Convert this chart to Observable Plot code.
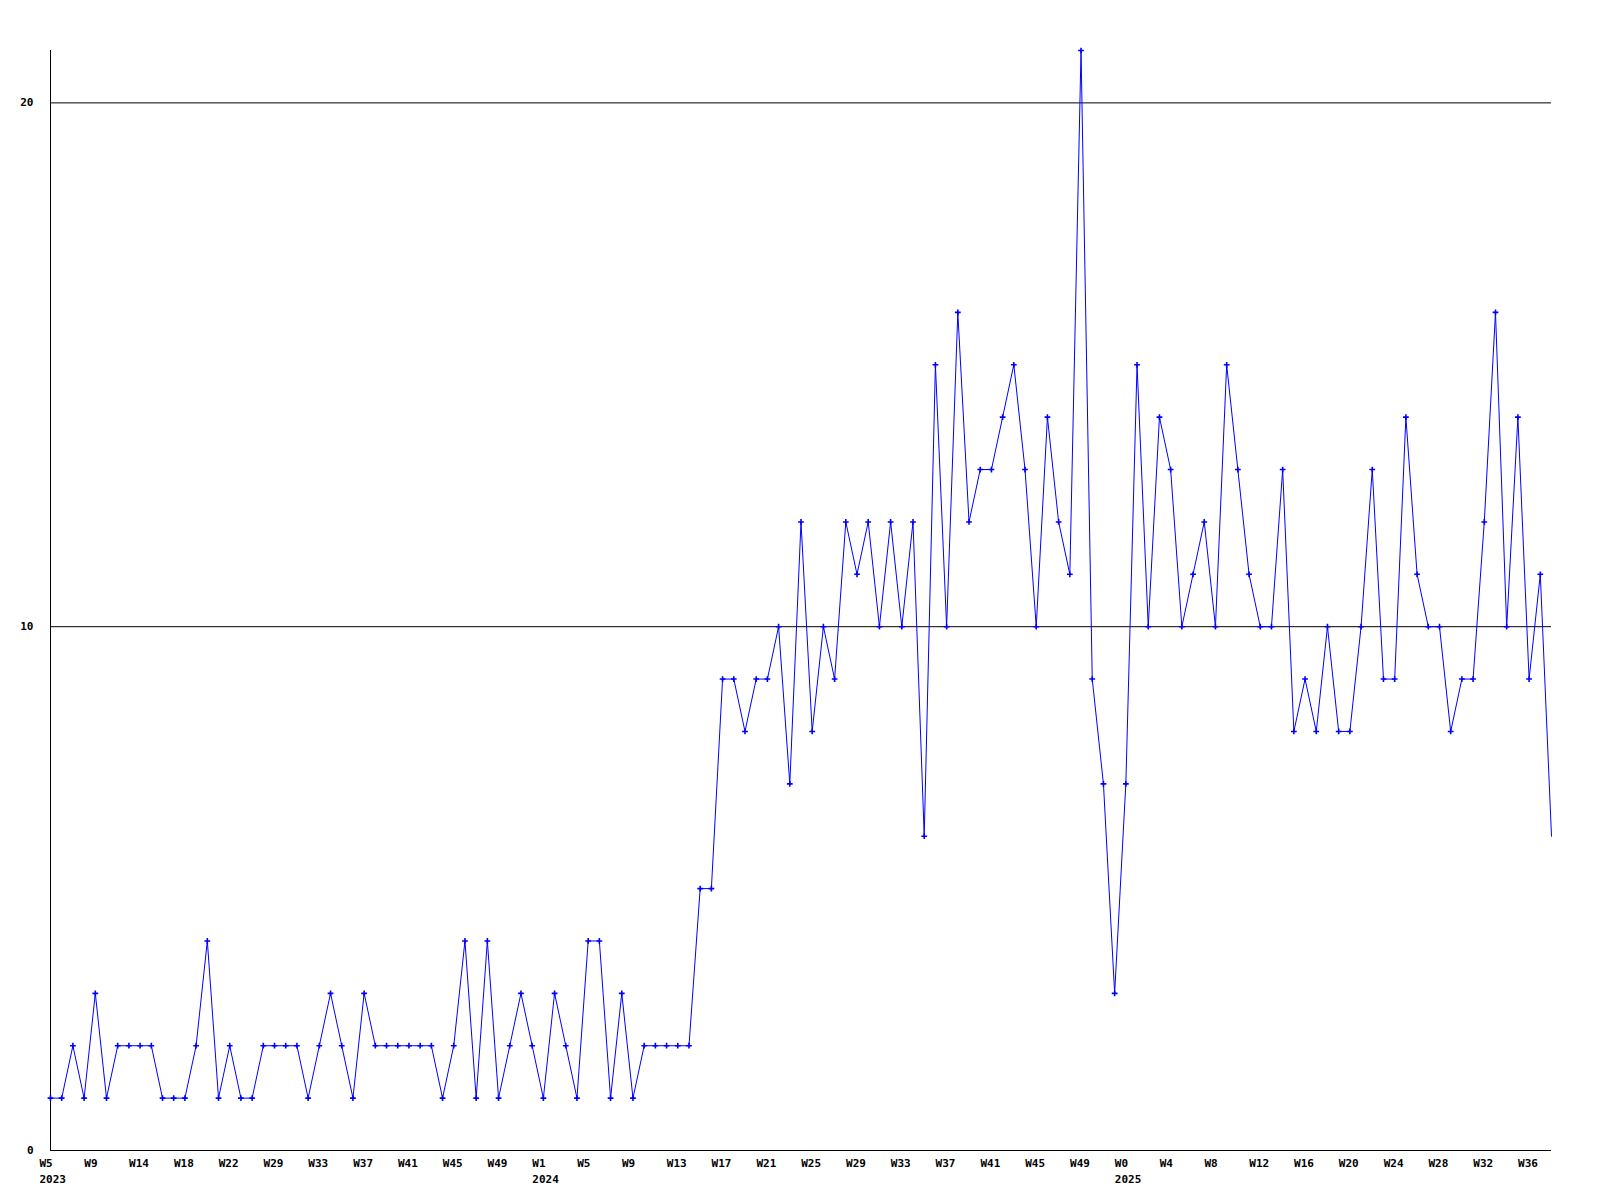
<!DOCTYPE html>
<html>
<head>
<meta charset="utf-8">
<script src="https://cdn.jsdelivr.net/npm/d3@7"></script>
<script src="https://cdn.jsdelivr.net/npm/@observablehq/plot@0.6"></script>
<style>
html, body { margin: 0; padding: 0; background: #fff; }
#chart svg { display: block; }
</style>
</head>
<body>
<div id="chart"></div>
<script>
// Weekly counts, one per plotted week (2023 W5 ... 2025 W38)
const values = [
  1, 1, 2, 1, 3, 1, 2, 2, 2, 2,
  1, 1, 1, 2, 4, 1, 2, 1, 1, 2,
  2, 2, 2, 1, 2, 3, 2, 1, 3, 2,
  2, 2, 2, 2, 2, 1, 2, 4, 1, 4,
  1, 2, 3, 2, 1, 3, 2, 1, 4, 4,
  1, 3, 1, 2, 2, 2, 2, 2, 5, 5,
  9, 9, 8, 9, 9, 10, 7, 12, 8, 10,
  9, 12, 11, 12, 10, 12, 10, 12, 6, 15,
  10, 16, 12, 13, 13, 14, 15, 13, 10, 14,
  12, 11, 21, 9, 7, 3, 7, 15, 10, 14,
  13, 10, 11, 12, 10, 15, 13, 11, 10, 10,
  13, 8, 9, 8, 10, 8, 8, 10, 13, 9,
  9, 14, 11, 10, 10, 8, 9, 9, 12, 16,
  10, 14, 9, 11, 6
];

// Week tick labels, one every 4th point
const weekLabels = [
  "W5", "W9", "W14", "W18", "W22", "W29", "W33", "W37", "W41", "W45", "W49",
  "W1", "W5", "W9", "W13", "W17", "W21", "W25", "W29", "W33", "W37", "W41", "W45", "W49",
  "W0", "W4", "W8", "W12", "W16", "W20", "W24", "W28", "W32", "W36"
];
const tickStep = 4;

// Year labels and the week tick they sit under
const yearLabels = ["2023", "2024", "2025"];
const yearTickIndex = [0, 11, 24];

const yTicks = [0, 10, 20];
const gridValues = [10, 20];

const data = values.map((v, i) => ({i, v}));
const tickPositions = weekLabels.map((_, k) => k * tickStep);
const labelFor = new Map(tickPositions.map((p, k) => {
  const yi = yearTickIndex.indexOf(k);
  return [p, yi >= 0 ? weekLabels[k] + "\n" + yearLabels[yi] : weekLabels[k]];
}));

const chart = Plot.plot({
  width: 1600,
  height: 1200,
  marginLeft: 50,
  marginRight: 49,
  marginTop: 50,
  marginBottom: 50,
  x: {type: "linear", domain: [0, values.length - 1]},
  y: {domain: [0, 21]},
  style: {
    fontFamily: "'DejaVu Sans Mono', monospace",
    fontSize: "11px",
    fontWeight: "bold",
    color: "#000",
    background: "#fff"
  },
  marks: [
    Plot.ruleY(gridValues, {stroke: "#000", strokeWidth: 1}),
    Plot.ruleX([0], {stroke: "#000", strokeWidth: 1}),
    Plot.ruleY([0], {stroke: "#000", strokeWidth: 1}),
    Plot.axisY({ticks: yTicks, tickSize: 0, tickPadding: 17, label: null, tickFormat: d => String(d)}),
    Plot.axisX({
      ticks: tickPositions, tickSize: 0, tickPadding: 5, label: null,
      tickFormat: d => labelFor.get(d), textAnchor: "start", dx: -11, lineHeight: 1.48
    }),
    Plot.line(data, {x: "i", y: "v", stroke: "#0000ff", strokeWidth: 1}),
    Plot.dot(data.slice(0, -1), {x: "i", y: "v", symbol: "plus", r: 2, stroke: "#0000ff", strokeWidth: 1.6})
  ]
});

document.getElementById("chart").appendChild(chart);
</script>
</body>
</html>
